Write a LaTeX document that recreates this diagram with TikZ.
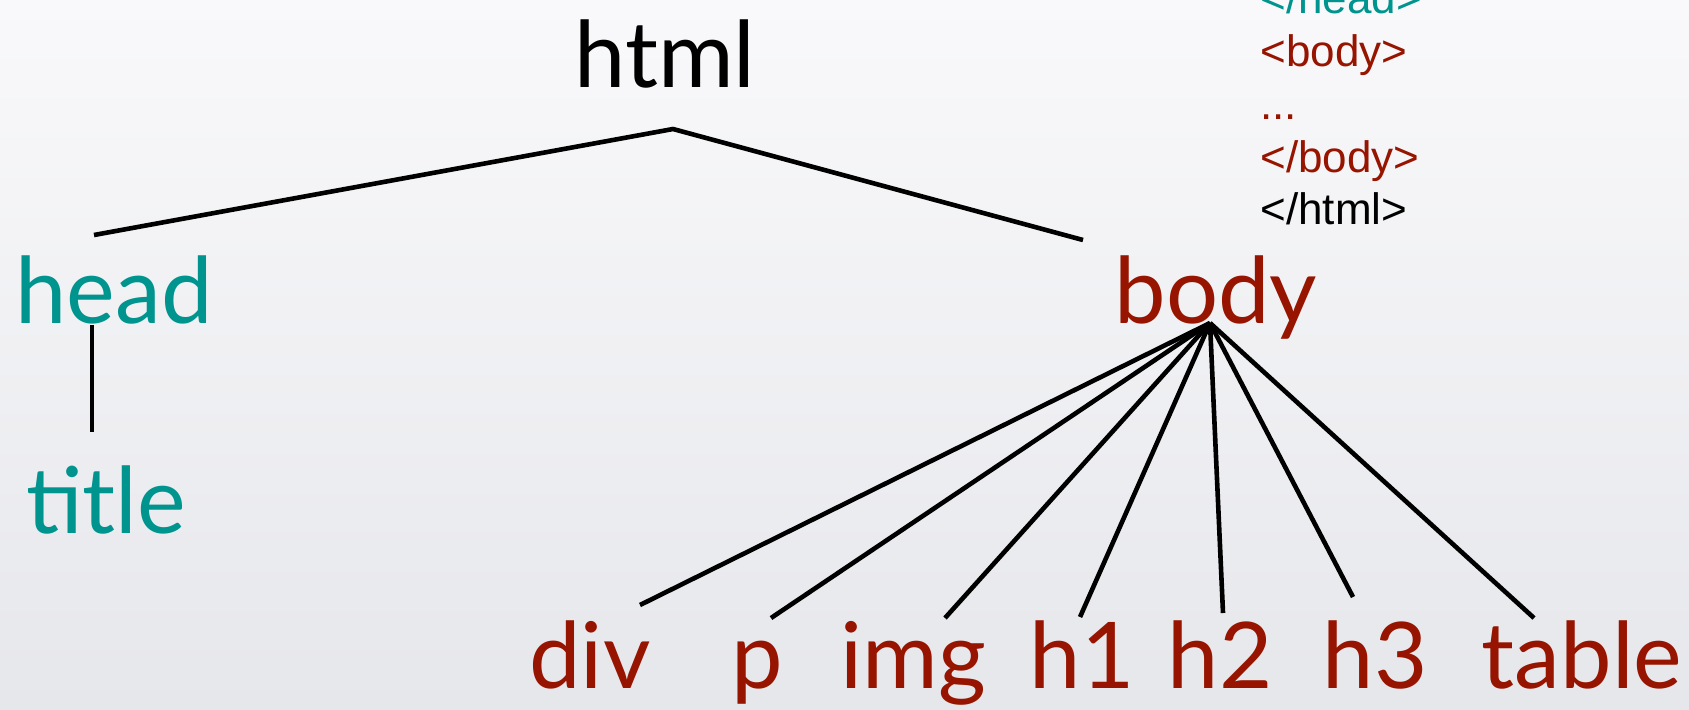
\documentclass[tikz,border=0pt]{standalone}
\usepackage{fontspec}
\setmainfont{Lato}
\newfontfamily\codefont{Liberation Sans}
\usetikzlibrary{calc,positioning}
\definecolor{headcol}{RGB}{0,148,143}
\definecolor{bodycol}{RGB}{150,20,0}
\definecolor{bgtop}{RGB}{249,249,251}
\definecolor{bgbot}{RGB}{230,231,235}
\tikzset{every node/.style={inner sep=0,anchor=base},
         tag/.style={font=\fontsize{46}{55}\selectfont},
         headtag/.style={tag,text=headcol},
         bodytag/.style={tag,text=bodycol},
         code/.style={anchor=base west,font=\codefont\fontsize{22}{26}\selectfont},
         branch/.style={draw,line width=2.3pt}}

\begin{document}
\begin{tikzpicture}[x=0.5pt,y=-0.5pt]
\shade[top color=bgtop,bottom color=bgbot] (0,0) rectangle (1689,709);
\useasboundingbox (0,0) rectangle (1689,709);
\clip (0,0) rectangle (1689,709);
\node[tag] (html) at (665,87) {html};
\node[headtag] (head) at (114,323) {head};
\node[headtag] (title) at (106,533) {title};
\node[bodytag] (body) at (1216,323) {body};
\node[bodytag] (div) at (590,688) {div};
\node[bodytag] (p) at (757,688) {p};
\node[bodytag] (img) at (913,688) {img};
\node[bodytag] (h1) at (1082,688) {h1};
\node[bodytag] (h2) at (1220,688) {h2};
\node[bodytag] (h3) at (1375,688) {h3};
\node[bodytag] (table) at (1582,688) {table};
\node[code,text=headcol] (chead) at (1260,13) {</head>};
\node[code,text=bodycol] (cbody) at (1260,66) {<body>};
\node[code,text=bodycol] (cdots) at (1260,119) {...};
\node[code,text=bodycol] (cendbody) at (1260,172) {</body>};
\node[code] (chtml) at (1260,224) {</html>};
\draw[branch] ($(head.base)+(-20,-88)$) -- ($(html.base)+(8,42)$) -- ($(body.base)+(-133,-83)$);
\draw[branch] ($(head.base)+(-22,2)$) -- ($(title.base)+(-14,-101)$);
\foreach \c/\dx/\dy in {div/50/-83,p/14/-70,img/32/-70,h1/-2/-71,h2/3/-75,h3/-22/-91,table/-48/-70}
  \draw[branch] ($(body.base)+(-6,0)$) -- ($(\c.base)+(\dx,\dy)$);
\end{tikzpicture}
\end{document}
